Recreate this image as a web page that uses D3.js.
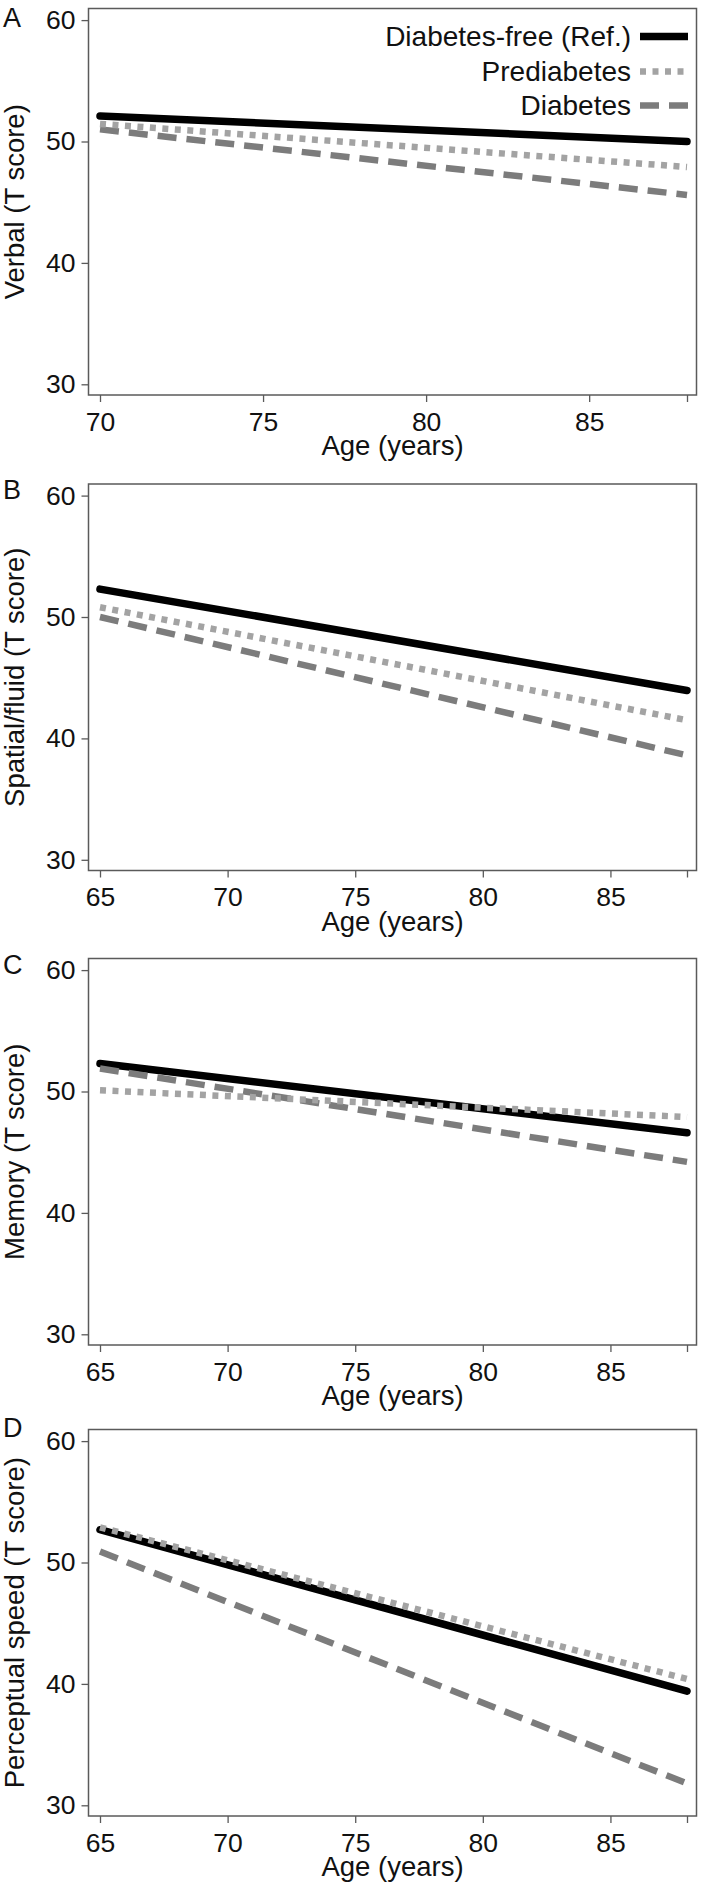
<!DOCTYPE html>
<html>
<head>
<meta charset="utf-8">
<script src="https://cdn.jsdelivr.net/npm/d3@7"></script>
<style>
  html, body { margin: 0; padding: 0; background: #fff; }
  svg text { font-family: "Liberation Sans", Arial, Helvetica, sans-serif; fill: #111; }
</style>
</head>
<body>
<svg id="chart" width="704" height="1887"></svg>
<script>
// ---- data ----
const panelLetters = ["A", "B", "C", "D"];
const yTitles = ["Verbal (T score)", "Spatial/fluid (T score)", "Memory (T score)", "Perceptual speed (T score)"];
const xTitle = "Age (years)";
const ageStart = [70, 65, 65, 65];
const ageEnd = [88, 88, 88, 88];
const xTickLabels = [[70, 75, 80, 85], [65, 70, 75, 80, 85], [65, 70, 75, 80, 85], [65, 70, 75, 80, 85]];
const yTickLabels = [30, 40, 50, 60];
const seriesNames = ["Diabetes-free (Ref.)", "Prediabetes", "Diabetes"];
// values at [start age, end age]
const diabetesFree = [[52.1, 50.0], [52.3, 43.95], [52.3, 46.6], [52.7, 39.4]];
const prediabetes  = [[51.45, 47.9], [50.8, 41.5], [50.1, 47.9], [52.9, 40.4]];
const diabetes     = [[51.0, 45.6], [50.0, 38.6], [51.9, 44.2], [50.9, 31.8]];

// ---- styles / layout ----
const seriesStyle = [
  { color: "#000000", width: 7.5, dash: null, cap: "round" },
  { color: "#a3a3a3", width: 6.5, dash: "6,6.5", cap: "butt" },
  { color: "#7c7c7c", width: 6.5, dash: "19,10", cap: "butt" }
];
const seriesData = [diabetesFree, prediabetes, diabetes];
const drawOrder = [0, 2, 1];

const svg = d3.select("#chart");
svg.append("rect").attr("width", 704).attr("height", 1887).attr("fill", "#fff");

const boxTops = [8.5, 484, 958.5, 1429.5];
const letterOffsets = [18, 15, 15, 7];
const boxH = 386.5;
const boxL = 88.5, boxR = 696.5;

panelLetters.forEach((letter, p) => {
  const top = boxTops[p], bottom = top + boxH;
  const g = svg.append("g");
  const x = d3.scaleLinear().domain([ageStart[p], ageEnd[p]]).range([100, 687]);
  const y = d3.scaleLinear().domain([30, 60]).range([bottom - 10.7, top + 11.6]);

  // frame
  g.append("rect").attr("x", boxL).attr("y", top).attr("width", boxR - boxL).attr("height", boxH)
    .attr("fill", "none").attr("stroke", "#5a5a5a").attr("stroke-width", 1.5);

  // axes
  const xAxis = d3.axisBottom(x)
    .tickValues(xTickLabels[p].concat([ageEnd[p]]))
    .tickSize(7).tickPadding(10)
    .tickFormat(d => xTickLabels[p].includes(d) ? d : "");
  const xa = g.append("g").attr("transform", `translate(0,${bottom})`).call(xAxis);
  xa.select(".domain").remove();
  xa.selectAll("line").attr("stroke", "#5a5a5a").attr("stroke-width", 1.3);
  xa.selectAll("text").attr("font-size", 26.5).attr("fill", "#111");

  const yAxis = d3.axisLeft(y).tickValues(yTickLabels).tickSize(7).tickPadding(6);
  const ya = g.append("g").attr("transform", `translate(${boxL},0)`).call(yAxis);
  ya.select(".domain").remove();
  ya.selectAll("line").attr("stroke", "#5a5a5a").attr("stroke-width", 1.3);
  ya.selectAll("text").attr("font-size", 26.5).attr("fill", "#111");

  // titles
  g.append("text").attr("x", (boxL + boxR) / 2).attr("y", bottom + 60)
    .attr("text-anchor", "middle").attr("font-size", 27.5).text(xTitle);
  g.append("text")
    .attr("transform", `translate(24,${top + boxH / 2}) rotate(-90)`)
    .attr("text-anchor", "middle").attr("font-size", 27.5).text(yTitles[p]);
  g.append("text").attr("x", 3).attr("y", top + letterOffsets[p]).attr("font-size", 27).text(letter);

  // lines
  const line = d3.line().x(d => x(d[0])).y(d => y(d[1]));
  drawOrder.forEach(s => {
    const vals = seriesData[s][p];
    const pts = [[ageStart[p], vals[0]], [ageEnd[p], vals[1]]];
    const st = seriesStyle[s];
    g.append("path").attr("d", line(pts)).attr("fill", "none")
      .attr("stroke", st.color).attr("stroke-width", st.width)
      .attr("stroke-linecap", st.cap)
      .attr("stroke-dasharray", st.dash);
  });

  // legend in first panel
  if (p === 0) {
    const rowY = [36.5, 71.5, 105.5];
    seriesNames.forEach((name, s) => {
      const st = seriesStyle[s];
      g.append("text").attr("x", 631).attr("y", rowY[s]).attr("dy", "0.35em")
        .attr("text-anchor", "end").attr("font-size", 28).text(name);
      g.append("line").attr("x1", 640).attr("x2", 688).attr("y1", rowY[s]).attr("y2", rowY[s])
        .attr("stroke", st.color).attr("stroke-width", st.width)
        .attr("stroke-dasharray", st.dash);
    });
  }
});
</script>
</body>
</html>
